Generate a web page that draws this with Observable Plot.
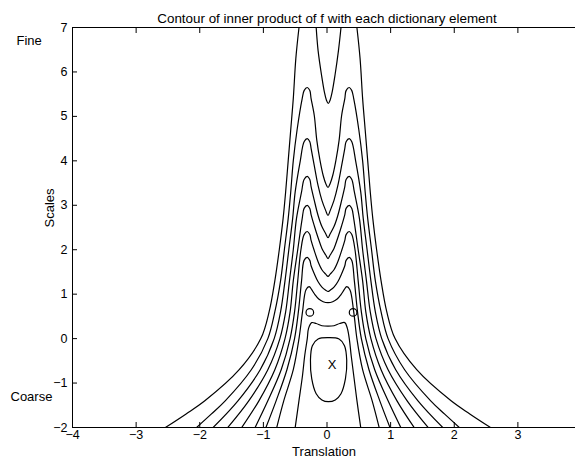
<!DOCTYPE html>
<html><head><meta charset="utf-8">
<script src="https://cdn.jsdelivr.net/npm/d3@7"></script>
<script src="https://cdn.jsdelivr.net/npm/@observablehq/plot@0.6"></script>
<style>
html,body{margin:0;padding:0;background:#fff;overflow:hidden}
</style></head><body><div id="chart"></div>
<script>
// ---- axis ticks & texts ----
const xTicks = [-4, -3, -2, -1, 0, 1, 2, 3];
const yTicks = [-2, -1, 0, 1, 2, 3, 4, 5, 6, 7];
const titleText = ["Contour of inner product of f with each dictionary element"];
const xLabel = ["Translation"];
const yLabel = ["Scales"];
const fineLabel = [{text: "Fine", y: 6.7}];
const coarseLabel = [{text: "Coarse", y: -1.32}];

// ---- contour lines, [translation, scale] ----
const contourL1Left = [[-2.54,-2],[-2.22,-1.7],[-1.92,-1.4],[-1.38,-0.7],[-1.04,0],[-0.91,0.6],[-0.82,1.3],[-0.75,2.0],[-0.69,2.7],[-0.65,3.3],[-0.61,4.0],[-0.57,4.7],[-0.53,5.4],[-0.49,6.3],[-0.44,7.0]];
const contourL1Top = [[-0.17,7.0],[-0.14,6.48],[-0.085,5.92],[-0.04,5.54],[-0.01,5.37],[0.02,5.29],[0.05,5.37],[0.08,5.54],[0.125,5.92],[0.18,6.48],[0.22,7.0]];
const contourL1Right = [[0.47,7.0],[0.52,6.3],[0.56,5.4],[0.60,4.7],[0.64,4.0],[0.68,3.3],[0.72,2.7],[0.78,2.0],[0.85,1.3],[0.94,0.6],[1.07,0],[1.41,-0.7],[1.95,-1.4],[2.25,-1.7],[2.57,-2]];
const contourH1 = [[-2.05,-2],[-1.82,-1.7],[-1.60,-1.4],[-1.19,-0.7],[-0.93,0],[-0.82,0.6],[-0.73,1.3],[-0.67,2.0],[-0.61,2.7],[-0.57,3.3],[-0.53,4.0],[-0.47,4.7],[-0.39,5.4],[-0.36,5.58],[-0.31,5.65],[-0.27,5.58],[-0.25,5.40],[-0.20,5.02],[-0.16,4.46],[-0.11,4.01],[-0.06,3.67],[-0.02,3.49],[0.016,3.40],[0.05,3.49],[0.09,3.67],[0.14,4.01],[0.19,4.46],[0.23,5.02],[0.28,5.40],[0.30,5.58],[0.35,5.65],[0.39,5.58],[0.42,5.40],[0.50,4.7],[0.56,4.0],[0.60,3.3],[0.64,2.7],[0.70,2.0],[0.76,1.3],[0.85,0.6],[0.96,0],[1.22,-0.7],[1.63,-1.4],[1.85,-1.7],[2.08,-2]];
const contourH2 = [[-1.79,-2],[-1.40,-1.4],[-1.05,-0.7],[-0.83,0],[-0.73,0.6],[-0.66,1.3],[-0.60,2.0],[-0.54,2.7],[-0.50,3.3],[-0.42,4.0],[-0.36,4.43],[-0.31,4.50],[-0.27,4.43],[-0.25,4.28],[-0.20,3.89],[-0.14,3.44],[-0.08,3.11],[-0.02,2.88],[0.016,2.77],[0.05,2.88],[0.11,3.11],[0.17,3.44],[0.23,3.89],[0.28,4.28],[0.30,4.43],[0.35,4.50],[0.39,4.43],[0.45,4.0],[0.53,3.3],[0.57,2.7],[0.63,2.0],[0.69,1.3],[0.76,0.6],[0.86,0],[1.08,-0.7],[1.43,-1.4],[1.82,-2]];
const contourH3 = [[-1.56,-2],[-1.23,-1.4],[-0.93,-0.7],[-0.74,0],[-0.65,0.6],[-0.59,1.3],[-0.53,2.0],[-0.48,2.7],[-0.40,3.3],[-0.36,3.58],[-0.31,3.65],[-0.27,3.58],[-0.25,3.42],[-0.20,3.11],[-0.14,2.77],[-0.08,2.52],[-0.02,2.36],[0.016,2.27],[0.05,2.36],[0.11,2.52],[0.17,2.77],[0.23,3.11],[0.28,3.42],[0.30,3.58],[0.35,3.65],[0.39,3.58],[0.43,3.3],[0.51,2.7],[0.56,2.0],[0.62,1.3],[0.68,0.6],[0.77,0],[0.96,-0.7],[1.26,-1.4],[1.59,-2]];
const contourH4 = [[-1.34,-2],[-1.07,-1.4],[-0.82,-0.7],[-0.66,0],[-0.58,0.6],[-0.53,1.3],[-0.46,2.0],[-0.39,2.7],[-0.36,2.93],[-0.31,3.00],[-0.27,2.93],[-0.25,2.79],[-0.20,2.54],[-0.14,2.27],[-0.08,2.03],[-0.02,1.88],[0.016,1.80],[0.05,1.88],[0.11,2.03],[0.17,2.27],[0.23,2.54],[0.28,2.79],[0.30,2.93],[0.35,3.00],[0.39,2.93],[0.42,2.7],[0.49,2.0],[0.56,1.3],[0.61,0.6],[0.69,0],[0.85,-0.7],[1.10,-1.4],[1.37,-2]];
const contourH5 = [[-1.13,-2],[-0.93,-1.4],[-0.72,-0.7],[-0.58,0],[-0.51,0.6],[-0.46,1.3],[-0.41,2.0],[-0.36,2.34],[-0.31,2.41],[-0.27,2.34],[-0.25,2.21],[-0.20,1.98],[-0.14,1.73],[-0.08,1.55],[-0.02,1.45],[0.016,1.40],[0.05,1.45],[0.11,1.55],[0.17,1.73],[0.23,1.98],[0.28,2.21],[0.30,2.34],[0.35,2.41],[0.39,2.34],[0.44,2.0],[0.49,1.3],[0.54,0.6],[0.61,0],[0.75,-0.7],[0.96,-1.4],[1.16,-2]];
const contourH6 = [[-0.96,-2],[-0.80,-1.4],[-0.63,-0.7],[-0.51,0],[-0.45,0.6],[-0.40,1.3],[-0.36,1.76],[-0.31,1.83],[-0.27,1.76],[-0.25,1.64],[-0.20,1.46],[-0.14,1.28],[-0.08,1.16],[-0.02,1.09],[0.016,1.06],[0.05,1.09],[0.11,1.16],[0.17,1.28],[0.23,1.46],[0.28,1.64],[0.30,1.76],[0.35,1.83],[0.39,1.76],[0.43,1.3],[0.48,0.6],[0.54,0],[0.66,-0.7],[0.83,-1.4],[0.99,-2]];
const contourH7 = [[-0.79,-2],[-0.68,-1.4],[-0.53,-0.7],[-0.44,0],[-0.385,0.6],[-0.33,1.10],[-0.28,1.17],[-0.24,1.10],[-0.19,0.99],[-0.13,0.89],[-0.06,0.83],[0.016,0.81],[0.09,0.83],[0.16,0.89],[0.22,0.99],[0.27,1.10],[0.31,1.17],[0.36,1.10],[0.42,0.6],[0.47,0],[0.56,-0.7],[0.71,-1.4],[0.82,-2]];
const contourS = [[-0.50,-2.00],[-0.44,-1.39],[-0.385,-0.83],[-0.35,-0.38],[-0.31,0.0],[-0.29,0.23],[-0.24,0.36],[-0.17,0.34],[-0.08,0.29],[0.016,0.28],[0.11,0.29],[0.20,0.34],[0.28,0.36],[0.32,0.23],[0.35,0.0],[0.38,-0.38],[0.42,-0.83],[0.47,-1.39],[0.53,-2.00]];
const contourLoop = [[0.02,0.02],[0.19,-0.01],[0.275,-0.16],[0.31,-0.49],[0.29,-0.90],[0.22,-1.24],[0.13,-1.38],[0.02,-1.42],[-0.08,-1.38],[-0.17,-1.24],[-0.24,-0.90],[-0.26,-0.49],[-0.23,-0.16],[-0.14,-0.01]];

// ---- markers ----
const circleMarks = [[-0.27, 0.59], [0.41, 0.59]];
const crossMarks = [[0.08, -0.58]];

const openContours = {
  L1Left: contourL1Left, L1Top: contourL1Top, L1Right: contourL1Right,
  H1: contourH1, H2: contourH2, H3: contourH3, H4: contourH4,
  H5: contourH5, H6: contourH6, H7: contourH7, S: contourS
};
const rows = Object.entries(openContours).flatMap(([id, pts]) => pts.map(([x, y]) => ({id, x, y})));
const loopRows = contourLoop.map(([x, y]) => ({x, y}));

const font = "'Liberation Sans', Arial, Helvetica, sans-serif";

const chart = Plot.plot({
  width: 575,
  height: 463,
  marginLeft: 72,
  marginRight: 0,
  marginTop: 27,
  marginBottom: 36,
  x: {domain: [-4, 4], range: [72, 581]},
  y: {domain: [-2, 7], range: [427, 27]},
  style: {fontFamily: font, fontSize: "13px", color: "#000", background: "#fff"},
  marks: [
    Plot.ruleY([-2, 7], {stroke: "#000", strokeWidth: 1}),
    Plot.ruleX([-4], {stroke: "#000", strokeWidth: 1}),
    Plot.axisX({anchor: "bottom", ticks: xTicks, tickSize: -5, tickPadding: 8, label: null, fontSize: 12.5}),
    Plot.axisX({anchor: "top", ticks: xTicks, tickSize: -5, tickFormat: () => "", label: null}),
    Plot.axisY({anchor: "left", ticks: yTicks, tickSize: -5, tickPadding: 10, label: null, fontSize: 12.5}),
    Plot.line(rows, {x: "x", y: "y", z: "id", curve: "catmull-rom", stroke: "#000", strokeWidth: 1.2, clip: true}),
    Plot.line(loopRows, {x: "x", y: "y", curve: "catmull-rom-closed", stroke: "#000", strokeWidth: 1.2}),
    Plot.dot(circleMarks, {x: d => d[0], y: d => d[1], r: 3.8, stroke: "#000", strokeWidth: 1.2, fill: "none"}),
    Plot.text(crossMarks, {x: d => d[0], y: d => d[1], text: () => "X", fontSize: 13}),
    Plot.text(titleText, {frameAnchor: "top", text: d => d, dy: -14, dx: 3, fontSize: 13.4}),
    Plot.text(xLabel, {frameAnchor: "bottom", text: d => d, dy: 28, fontSize: 13}),
    Plot.text(yLabel, {frameAnchor: "left", text: d => d, rotate: -90, dx: -23, fontSize: 13}),
    Plot.text(fineLabel, {y: "y", text: "text", frameAnchor: "left", textAnchor: "start", dx: -56, fontSize: 13}),
    Plot.text(coarseLabel, {y: "y", text: "text", frameAnchor: "left", textAnchor: "start", dx: -62, fontSize: 13})
  ]
});
document.getElementById("chart").appendChild(chart);
</script>
</body></html>
